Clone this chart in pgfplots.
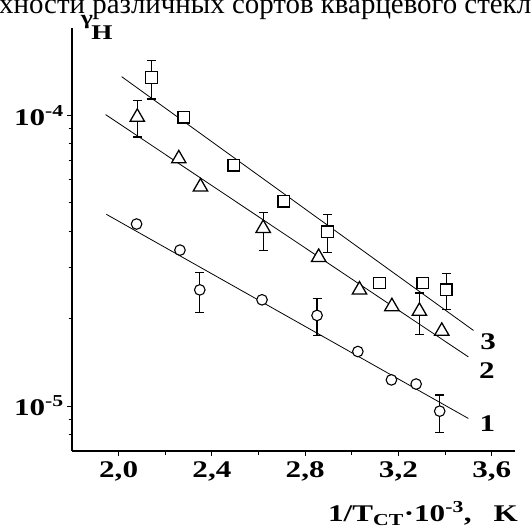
\documentclass[border=0pt]{standalone}
\usepackage{fontspec}
\setmainfont{Liberation Serif}
\newfontfamily\sfont{Liberation Serif}[FakeStretch=1.3]
\usepackage{pgfplots}
\pgfplotsset{compat=1.18}
\newcommand{\tfont}{\sfont\bfseries\fontsize{24}{26}\selectfont}
\begin{document}
\begin{tikzpicture}
\begin{axis}[
  at={(72bp,77bp)}, anchor=south west,
  scale only axis, width=443bp, height=423bp,
  xmin=1.8, xmax=3.7,
  ymode=log, ymin=7e-6, ymax=2e-4,
  axis x line*=bottom, axis y line*=left,
  axis line style={line width=1.3pt},
  xtick={2,2.4,2.8,3.2,3.6},
  xticklabels={{2,0},{2,4},{2,8},{3,2},{3,6}},
  minor xtick={2.2,2.6,3.0,3.4},
  ytick={1e-5,1e-4},
  yticklabels={{10\textsuperscript{-5}},{10\textsuperscript{-4}}},
  minor ytick={8e-6,9e-6,2e-5,3e-5,4e-5,5e-5,6e-5,7e-5,8e-5,9e-5},
  tick align=outside,
  major tick length=5bp, minor tick length=3.5bp,
  every tick/.style={black, line width=1pt},
  ticklabel style={font=\tfont},
  xticklabel style={inner sep=1pt, yshift=-4bp},
  yticklabel style={inner sep=1pt, xshift=-2bp},
  clip=false,
]
% fitted lines
\addplot[black, line width=0.8pt] coordinates {(2.013,1.36e-4) (3.522,1.82e-5)};
\addplot[black, line width=0.8pt] coordinates {(1.944,1.007e-4) (3.500,1.476e-5)};
\addplot[black, line width=0.8pt] coordinates {(1.947,4.57e-5) (3.500,9.06e-6)};
% error bars
\addplot[only marks, mark=none, black, line width=1.2pt,
  error bars/.cd, y dir=both, y explicit,
  error bar style={line width=1.3pt, black},
  error mark options={rotate=90, mark size=4.5bp, line width=1.3pt}]
  coordinates {
  (2.141,1.35e-4) += (0,1.95e-5) -= (0,2.1e-5)
  (2.896,3.98e-5) += (0,5.9e-6) -= (0,6.1e-6)
  (3.405,2.51e-5) += (0,3.5e-6) -= (0,3.6e-6)
  (2.080,9.87e-5) += (0,1.38e-5) -= (0,1.44e-5)
  (2.620,4.09e-5) += (0,5.4e-6) -= (0,6.6e-6)
  (3.290,2.12e-5) += (0,3.3e-6) -= (0,3.6e-6)
  (2.348,2.51e-5) += (0,3.7e-6) -= (0,4.1e-6)
  (2.851,2.05e-5) += (0,2.9e-6) -= (0,3.0e-6)
  (3.377,9.6e-6) += (0,1.3e-6) -= (0,1.49e-6)
  };
% series 3: squares
\addplot[only marks, mark=square*, mark size=5.8bp,
  mark options={draw=black, fill=white, line width=1.3pt}]
  coordinates {(2.141,1.35e-4) (2.280,9.87e-5) (2.494,6.74e-5) (2.708,5.07e-5)
  (2.896,3.98e-5) (3.119,2.65e-5) (3.305,2.65e-5) (3.405,2.51e-5)};
% series 2: triangles
\addplot[only marks, mark=triangle*, mark size=8.3bp,
  mark options={draw=black, fill=white, line width=1.3pt}]
  coordinates {(2.080,9.87e-5) (2.258,7.1e-5) (2.351,5.68e-5) (2.620,4.09e-5)
  (2.858,3.25e-5) (3.033,2.51e-5) (3.172,2.2e-5) (3.290,2.12e-5) (3.386,1.81e-5)};
% series 1: circles
\addplot[only marks, mark=*, mark size=5.3bp,
  mark options={draw=black, fill=white, line width=1.1pt}]
  coordinates {(2.077,4.23e-5) (2.263,3.44e-5) (2.348,2.51e-5) (2.615,2.32e-5)
  (2.851,2.05e-5) (3.026,1.54e-5) (3.170,1.23e-5) (3.276,1.19e-5) (3.377,9.6e-6)};
\node[font=\tfont] at (axis cs:3.585,1.67e-5) {3};
\node[font=\tfont] at (axis cs:3.579,1.32e-5) {2};
\node[font=\tfont] at (axis cs:3.582,8.73e-6) {1};
\end{axis}
\node[anchor=base west, inner sep=0pt] at (-1bp,514bp)
  {\fontsize{29}{31}\selectfont хности различных сортов кварцевого стекла};
\node[anchor=base west, inner sep=0pt] at (328bp,6.5bp)
  {\tfont 1/T\textsubscript{СТ}·10\textsuperscript{-3},\hspace{22bp}K};
\node[inner sep=0pt] at (87bp,506bp) {\sfont\bfseries\fontsize{20}{22}\selectfont γ};
\node[inner sep=0pt] at (102bp,495.5bp) {\sfont\bfseries\fontsize{21}{22}\selectfont H};
\pgfresetboundingbox
\path[use as bounding box] (0,0) rectangle (531bp,528bp);
\end{tikzpicture}
\end{document}
